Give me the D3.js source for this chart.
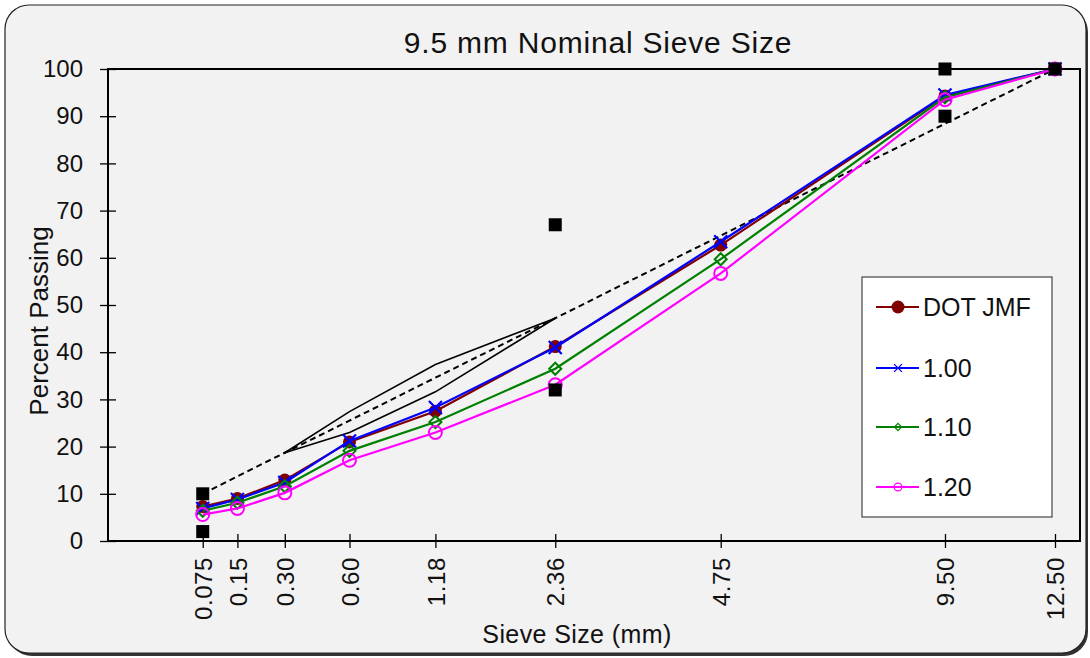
<!DOCTYPE html>
<html>
<head>
<meta charset="utf-8">
<script src="https://cdn.jsdelivr.net/npm/d3@7"></script>
<style>
  body { margin: 0; background: #ffffff; }
  svg { display: block; font-family: "Liberation Sans", Arial, sans-serif; }
</style>
</head>
<body>
<script>
// sieve sizes (mm) and their tick labels
var sieves = [0.075, 0.15, 0.30, 0.60, 1.18, 2.36, 4.75, 9.50, 12.50];
var sieveLabels = ["0.075", "0.15", "0.30", "0.60", "1.18", "2.36", "4.75", "9.50", "12.50"];
var yTicks = [0, 10, 20, 30, 40, 50, 60, 70, 80, 90, 100];

// gradation series, percent passing at each sieve
var dotJmf = [7.3, 9.0, 12.9, 21.0, 27.5, 41.2, 62.7, 94.3, 100];
var blend100 = [6.9, 8.8, 12.4, 21.2, 28.3, 41.0, 63.4, 94.5, 100];
var blend110 = [6.4, 8.1, 11.6, 19.1, 25.2, 36.5, 59.7, 94.0, 100];
var blend120 = [5.6, 6.9, 10.2, 17.1, 23.0, 33.1, 56.7, 93.5, 100];

// maximum density line
var maxDensity = [10.0, 13.7, 18.7, 25.5, 34.6, 47.2, 64.7, 88.4, 100];

// restricted zone
var rzSieves = [0.30, 0.60, 1.18, 2.36];
var rzUpper = [18.7, 27.4, 37.4, 47.2];
var rzLower = [18.7, 23.0, 31.6, 47.2];

// control points
var ctrlSieves = [0.075, 0.075, 2.36, 2.36, 9.50, 9.50, 12.50];
var ctrlValues = [2, 10, 32, 67, 90, 100, 100];

var seriesNames = ["DOT JMF", "1.00", "1.10", "1.20"];
var seriesData = [dotJmf, blend100, blend110, blend120];
var seriesColours = ["#800000", "#0000ff", "#008000", "#ff00ff"];
var seriesMarkers = ["dot", "cross", "diamond", "ring"];

var width = 1090, height = 658;

var svg = d3.select("body").append("svg")
	.attr("width", width)
	.attr("height", height);

// outer frame with a little shadow
svg.append("rect")
	.attr("x", 8).attr("y", 8)
	.attr("width", 1080).attr("height", 648)
	.attr("rx", 24).attr("ry", 24)
	.attr("fill", "#333");
svg.append("rect")
	.attr("x", 5).attr("y", 5)
	.attr("width", 1081).attr("height", 648)
	.attr("rx", 24).attr("ry", 24)
	.attr("fill", "#f2f2f2")
	.attr("stroke", "#222")
	.attr("stroke-width", 1.2);

var x = d3.scalePow().exponent(0.45)
	.domain([0, 12.5])
	.range([108, 1055]);

var y = d3.scaleLinear()
	.domain([0, 100])
	.range([541, 69]);

var plotRight = 1080;

// title
svg.append("text")
	.attr("x", 598).attr("y", 53)
	.attr("text-anchor", "middle")
	.attr("font-size", "30px")
	.attr("letter-spacing", "0.8px")
	.attr("fill", "#111")
	.text("9.5 mm Nominal Sieve Size");

// y axis
var yAxis = svg.append("g")
	.attr("transform", "translate(108,0)")
	.call(d3.axisLeft(y).tickValues(yTicks).tickSize(8).tickPadding(17));
yAxis.select(".domain").remove();
yAxis.selectAll(".tick line").attr("x1", 8).attr("stroke", "#000").attr("stroke-width", 1.3);
yAxis.selectAll(".tick text")
	.attr("font-size", "24px")
	.attr("font-family", "Liberation Sans, Arial, sans-serif")
	.attr("fill", "#111");

// x axis
var xAxis = svg.append("g")
	.attr("transform", "translate(0,541)")
	.call(d3.axisBottom(x).tickValues(sieves)
		.tickFormat(function(d, i) { return sieveLabels[i]; })
		.tickSize(7));
xAxis.select(".domain").remove();
xAxis.selectAll(".tick line").attr("y1", -7).attr("stroke", "#000").attr("stroke-width", 1.3);
xAxis.selectAll(".tick text")
	.attr("transform", "rotate(-90)")
	.attr("text-anchor", "end")
	.attr("x", -16)
	.attr("y", 0)
	.attr("dy", "0.36em")
	.attr("font-size", "24px")
	.attr("letter-spacing", "0.6px")
	.attr("font-family", "Liberation Sans, Arial, sans-serif")
	.attr("fill", "#111");

// axis titles
svg.append("text")
	.attr("transform", "translate(48,321) rotate(-90)")
	.attr("text-anchor", "middle")
	.attr("font-size", "26px")
	.attr("fill", "#111")
	.text("Percent Passing");

svg.append("text")
	.attr("x", 577).attr("y", 643)
	.attr("text-anchor", "middle")
	.attr("font-size", "25px")
	.attr("letter-spacing", "0.4px")
	.attr("fill", "#111")
	.text("Sieve Size (mm)");

var line = d3.line()
	.x(function(d) { return x(d[0]); })
	.y(function(d) { return y(d[1]); });

function pairs(xs, ys) {
	var out = [];
	for (var i = 0; i < xs.length; i++) {
		out.push([xs[i], ys[i]]);
	}
	return out;
}

var g = svg.append("g");

// restricted zone
g.append("path")
	.attr("d", line(pairs(rzSieves, rzUpper)))
	.attr("fill", "none").attr("stroke", "#000").attr("stroke-width", 1.6);
g.append("path")
	.attr("d", line(pairs(rzSieves, rzLower)))
	.attr("fill", "none").attr("stroke", "#000").attr("stroke-width", 1.6);

// maximum density line
g.append("path")
	.attr("d", line(pairs(sieves, maxDensity)))
	.attr("fill", "none")
	.attr("stroke", "#000")
	.attr("stroke-width", 2)
	.attr("stroke-dasharray", "6,4");

function drawMarker(sel, type, colour, cx, cy, scale) {
	var s = scale || 1;
	if (type === "dot") {
		sel.append("circle").attr("cx", cx).attr("cy", cy).attr("r", 6.5 * s)
			.attr("fill", colour);
	} else if (type === "cross") {
		var r = 6.5 * s;
		sel.append("path")
			.attr("d", "M" + (cx - r) + "," + (cy - r) + "L" + (cx + r) + "," + (cy + r) +
				"M" + (cx - r) + "," + (cy + r) + "L" + (cx + r) + "," + (cy - r))
			.attr("stroke", colour).attr("stroke-width", 2.2 * s).attr("fill", "none");
	} else if (type === "diamond") {
		var r = 6 * s;
		sel.append("path")
			.attr("d", "M" + cx + "," + (cy - r) + "L" + (cx + r) + "," + cy +
				"L" + cx + "," + (cy + r) + "L" + (cx - r) + "," + cy + "Z")
			.attr("stroke", colour).attr("stroke-width", 2 * s).attr("fill", "none");
	} else {
		sel.append("circle").attr("cx", cx).attr("cy", cy).attr("r", 6.5 * s)
			.attr("stroke", colour).attr("stroke-width", 2 * s).attr("fill", "none");
	}
}

// gradation series
for (var k = 0; k < seriesData.length; k++) {
	var pts = pairs(sieves, seriesData[k]);
	var sg = g.append("g");
	sg.append("path")
		.attr("d", line(pts))
		.attr("fill", "none")
		.attr("stroke", seriesColours[k])
		.attr("stroke-width", 2.2);
	for (var i = 0; i < pts.length; i++) {
		drawMarker(sg, seriesMarkers[k], seriesColours[k], x(pts[i][0]), y(pts[i][1]));
	}
}

// control points
g.selectAll("rect.ctrl")
	.data(pairs(ctrlSieves, ctrlValues))
	.enter().append("rect")
	.attr("class", "ctrl")
	.attr("x", function(d) { return x(d[0]) - 6.5; })
	.attr("y", function(d) { return y(d[1]) - 6.5; })
	.attr("width", 13).attr("height", 13)
	.attr("fill", "#000");

// plot frame
svg.append("rect")
	.attr("x", 108).attr("y", 69)
	.attr("width", plotRight - 108).attr("height", 541 - 69)
	.attr("fill", "none")
	.attr("stroke", "#000")
	.attr("stroke-width", 2);

// legend
var legend = svg.append("g");
legend.append("rect")
	.attr("x", 862).attr("y", 277)
	.attr("width", 190).attr("height", 240)
	.attr("fill", "#fff")
	.attr("stroke", "#444")
	.attr("stroke-width", 1.2);

var legendRows = [307, 368, 427, 487];
for (var k = 0; k < seriesNames.length; k++) {
	var ly = legendRows[k];
	legend.append("line")
		.attr("x1", 876).attr("x2", 919)
		.attr("y1", ly).attr("y2", ly)
		.attr("stroke", seriesColours[k])
		.attr("stroke-width", 2);
	drawMarker(legend, seriesMarkers[k], seriesColours[k], 898, ly, k === 0 ? 1 : 0.6);
	legend.append("text")
		.attr("x", 923).attr("y", ly)
		.attr("dy", "0.36em")
		.attr("font-size", "25px")
		.attr("fill", "#111")
		.text(seriesNames[k]);
}
</script>
</body>
</html>
